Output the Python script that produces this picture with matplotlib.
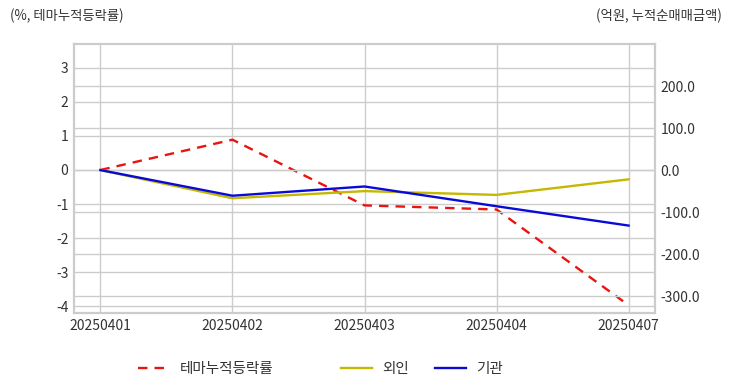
import matplotlib
matplotlib.use("Agg")
import matplotlib.pyplot as plt

plt.rcParams['font.family'] = ['Noto Sans CJK KR', 'DejaVu Sans']
plt.rcParams['axes.unicode_minus'] = False

dates = ['20250401', '20250402', '20250403', '20250404', '20250407']
theme_pct = [0.0, 0.89, -1.04, -1.16, -3.97]
foreign = [0.0, -67.0, -50.0, -59.0, -22.0]
institution = [0.0, -61.0, -39.0, -86.0, -132.0]

left_ticks = [3, 2, 1, 0, -1, -2, -3, -4]
right_ticks = [200, 100, 0, -100, -200, -300]

fig = plt.figure(figsize=(7.32, 3.92), dpi=100)
ax = fig.add_axes([74/732, 1-313/392, (655-74)/732, (313-44)/392])
ax2 = ax.twinx()

x = list(range(len(dates)))
grid_c = '#cccccc'
text_c = '#333333'

l1, = ax.plot(x, theme_pct, color='#e8140f', linestyle=(0, (4, 3)), linewidth=1.7, label='테마누적등락률')
l2, = ax2.plot(x, foreign, color='#c4b800', linewidth=1.7, label='외인')
l3, = ax2.plot(x, institution, color='#0a0ad8', linewidth=1.7, label='기관')

ax.set_xlim(-0.2, 4.2)
ax.set_ylim(-4.2, 3.7)
ax2.set_ylim(-340, 300)
ax.set_xticks(x)
ax.set_xticklabels(dates)
ax.set_yticks(left_ticks)
ax.set_yticklabels([str(t) for t in left_ticks])
ax2.set_yticks(right_ticks)
ax2.set_yticklabels([f'{t:.1f}' for t in right_ticks])

ax.grid(True, color=grid_c, linewidth=1)
ax2.grid(True, axis='y', color=grid_c, linewidth=1)
ax.set_axisbelow(True)
ax2.set_axisbelow(True)

for a in (ax, ax2):
    for s in a.spines.values():
        s.set_color(grid_c)
        s.set_linewidth(1.5)
    a.tick_params(length=0, labelsize=10, colors=text_c, pad=4)
ax.tick_params(axis='x', pad=4)

fig.text(10/732, 1-16/392, '(%, 테마누적등락률)', fontsize=9.6, color=text_c, ha='left', va='center')
fig.text(722/732, 1-16/392, '(억원, 누적순매매금액)', fontsize=9.6, color=text_c, ha='right', va='center')

for h, xpos in ((l1, 138), (l2, 341), (l3, 435)):
    fig.legend(handles=[h], loc='center left', bbox_to_anchor=(xpos/732, 1-369/392),
               frameon=False, fontsize=10.5, handlelength=2.1, handletextpad=0.75,
               borderpad=0, borderaxespad=0, labelcolor=text_c)

fig.savefig('out.png', dpi=100, facecolor='white')
